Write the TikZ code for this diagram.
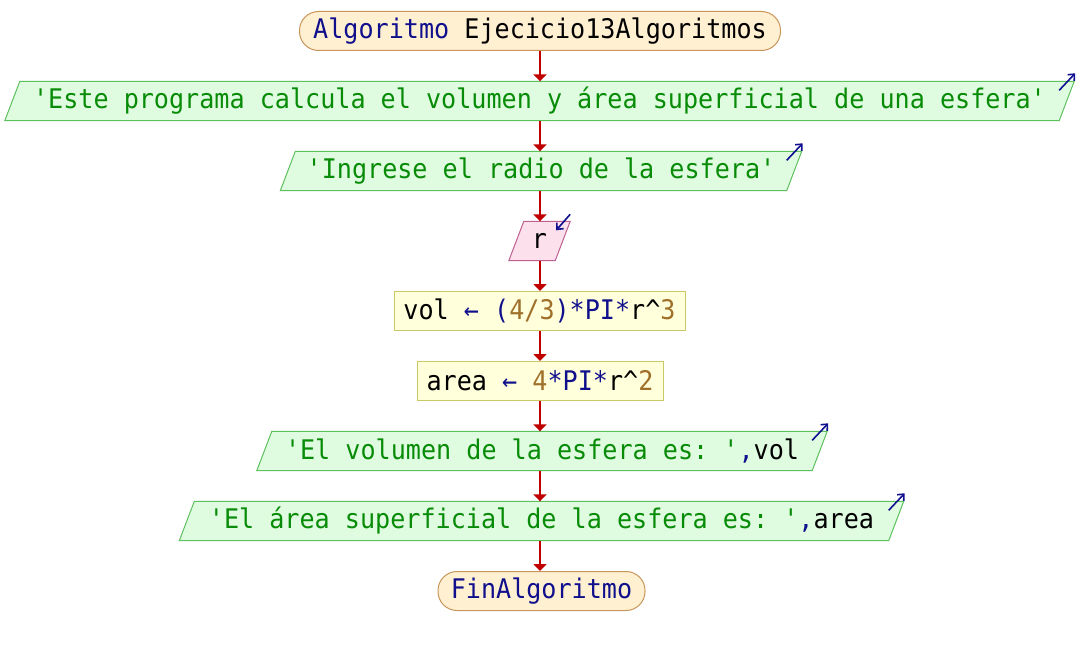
\documentclass[tikz,border=0pt]{standalone}
\usepackage{fontspec}
\usetikzlibrary{arrows.meta,calc}
\newfontfamily\psefont[FakeStretch=0.93]{DejaVu Sans Mono}
\definecolor{kwblue}{HTML}{10108C}
\definecolor{strgreen}{HTML}{088C08}
\definecolor{numbrown}{HTML}{A0702A}
\definecolor{flowred}{HTML}{C00000}
\definecolor{termfill}{HTML}{FFF0D2}
\definecolor{termdraw}{HTML}{C8965A}
\definecolor{outfill}{HTML}{E0FCE0}
\definecolor{outdraw}{HTML}{5CC05C}
\definecolor{infill}{HTML}{FCE0EC}
\definecolor{indraw}{HTML}{C06090}
\definecolor{procfill}{HTML}{FFFFDC}
\definecolor{procdraw}{HTML}{C8C864}
\definecolor{iconblue}{HTML}{101090}
\newcommand\kwtxt[1]{\textcolor{kwblue}{#1}}
\newcommand\strtxt[1]{\textcolor{strgreen}{#1}}
\newcommand\numtxt[1]{\textcolor{numbrown}{#1}}
\pgfdeclarelayer{shapes}
\pgfsetlayers{shapes,main}
\frenchspacing
\begin{document}
\begin{tikzpicture}[x=1pt,y=-1pt,
  every node/.style={font=\psefont\fontsize{27}{30}\selectfont, inner sep=0pt,
    minimum height=39pt, anchor=center},
  terminal/.style={draw=termdraw, fill=termfill, line width=1pt, rounded corners=19pt},
  process/.style={draw=procdraw, fill=procfill, line width=1pt},
  outshape/.style={draw=outdraw, fill=outfill, line width=1pt},
  inshape/.style={draw=indraw, fill=infill, line width=1pt},
  flow/.style={draw=flowred, line width=2pt, -{Triangle[length=7pt,width=13pt]}},
  icon/.style={draw=iconblue, line width=1.6pt, -{Straight Barb[length=5pt,width=9pt]}},
  ]
\useasboundingbox (0,0) rectangle (1079,655);
% the vertical line that all flow lines follow
\coordinate (spine) at (540,0);

% statements, top to bottom
\node[terminal, minimum width=481pt] (start) at (540,31)
  {\kwtxt{Algoritmo} Ejecicio13Algoritmos};
\node[minimum width=1054pt] (out1) at (539.5,101)
  {\strtxt{'Este programa calcula el volumen y área superficial de una esfera'}};
\node[minimum width=506pt] (out2) at (541,171)
  {\strtxt{'Ingrese el radio de la esfera'}};
\node[minimum width=46pt] (read) at (539.5,241) {r};
\node[process, minimum width=291pt] (calcvol) at (539.5,311)
  {vol \kwtxt{←} \kwtxt{(}\numtxt{4/3}\kwtxt{)*PI*}r\textasciicircum\numtxt{3}};
\node[process, minimum width=246pt] (calcarea) at (540,381)
  {area \kwtxt{←} \numtxt{4}\kwtxt{*PI*}r\textasciicircum\numtxt{2}};
\node[minimum width=555pt] (out3) at (542,451)
  {\strtxt{'El volumen de la esfera es: '}\kwtxt{,}vol};
\node[minimum width=709pt] (out4) at (541.5,521)
  {\strtxt{'El área superficial de la esfera es: '}\kwtxt{,}area};
\node[terminal, minimum width=207pt] (finish) at (541.5,591)
  {\kwtxt{FinAlgoritmo}};

% slanted input/output boxes behind their texts
\begin{pgfonlayer}{shapes}
  \foreach \n/\sty in {out1/outshape, out2/outshape, read/inshape, out3/outshape, out4/outshape}{
    \draw[\sty] ($(\n.north west)+(7.5,0)$) -- ($(\n.north east)+(7.5,0)$)
      -- ($(\n.south east)+(-7.5,0)$) -- ($(\n.south west)+(-7.5,0)$) -- cycle;
  }
\end{pgfonlayer}

% output and input markers at the upper right corners
\foreach \n in {out1, out2, out3, out4}{
  \draw[icon] ($(\n.north east)+(7.5,0)+(-15,9)$) -- ($(\n.north east)+(7.5,0)+(1,-8)$);
}
\draw[icon] ($(read.north east)+(7.5,0)+(0,-7)$) -- ($(read.north east)+(7.5,0)+(-14,9)$);

% flow lines
\foreach \a/\b in {start/out1, out1/out2, out2/read, read/calcvol,
                   calcvol/calcarea, calcarea/out3, out3/out4, out4/finish}{
  \draw[flow] (\a.south -| spine) -- (\b.north -| spine);
}
\end{tikzpicture}
\end{document}
